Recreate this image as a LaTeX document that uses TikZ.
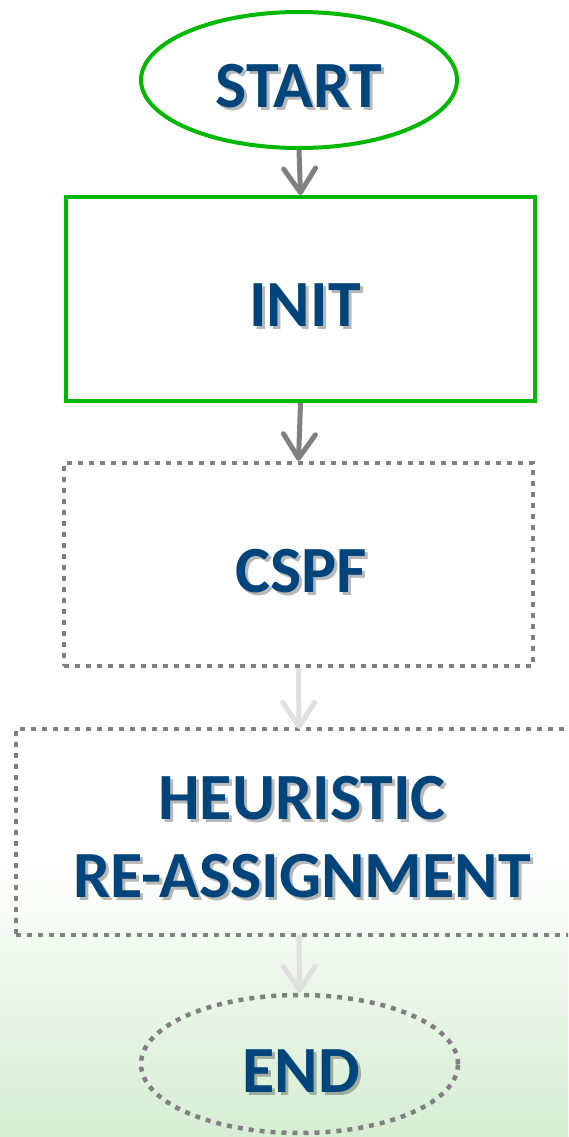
\documentclass[tikz,border=0pt]{standalone}
\usepackage{fontspec}
\setmainfont{Carlito}
\usetikzlibrary{arrows.meta,shapes.geometric,calc}
\definecolor{txtblue}{RGB}{0,68,124}
\definecolor{boxgreen}{RGB}{0,184,0}
\definecolor{dotgray}{RGB}{128,128,128}
\definecolor{fadegray}{RGB}{224,224,224}
\definecolor{bgbottom}{RGB}{213,237,210}
\tikzset{
  x=1pt, y=1pt,
  solidline/.style={draw=boxgreen, line width=4pt},
  dotline/.style={draw=dotgray, line width=4.5pt, dash pattern=on 5pt off 6pt},
  ovalbox/.style={ellipse, inner sep=0pt},
  rectbox/.style={rectangle, inner sep=0pt},
  flowtext/.style={text=txtblue, font=\fontsize{66}{78}\selectfont\bfseries, align=center, inner sep=0pt},
  glow/.style={text=black, font=\fontsize{66}{78}\selectfont\bfseries, align=center, inner sep=0pt, text opacity=0.28},
  flowarrow/.style={line width=5pt, -{Straight Barb[length=24pt, width=32pt, line cap=round, line join=round]}},
}
% label with a soft drop shadow behind it
\newcommand{\shadowedtext}[3]{%
  \node[glow] at ($(#1)+(3,-3.5)$) {#3};
  \node[flowtext] (#2) at (#1) {#3};
}
\begin{document}
\begin{tikzpicture}
  \useasboundingbox (0,0) rectangle (568,-1137);
  \clip (0,0) rectangle (568,-1137);
  % page background fading to green at the foot
  \fill[white] (0,0) rectangle (568,-1137);
  \shade[top color=white, bottom color=bgbottom] (0,-860) rectangle (568,-1137);

  % shapes
  \node[ovalbox, solidline, minimum width=316pt, minimum height=136pt] (start) at (299,-80) {};
  \node[rectbox, solidline, minimum width=469pt, minimum height=204pt] (init) at (300.5,-299) {};
  \node[rectbox, dotline, minimum width=469pt, minimum height=203pt] (cspf) at (298.5,-564.5) {};
  \node[rectbox, dotline, minimum width=600pt, minimum height=206pt] (heur) at (316,-832) {};
  \node[ovalbox, dotline, minimum width=317pt, minimum height=138pt] (end) at (299.5,-1064) {};

  % connector ends on the wide box, which runs past the right edge
  \coordinate (heurtop) at (299,-729);
  \coordinate (heurbot) at (299,-935);

  % connectors
  \draw[flowarrow, dotgray] (start.south) -- (init.north);
  \draw[flowarrow, dotgray] (init.south) -- (cspf.north);
  \draw[flowarrow, fadegray] (cspf.south) -- (heurtop);
  \draw[flowarrow, fadegray] (heurbot) -- (end.north);

  % labels
  \coordinate (pstart) at (299,-86);
  \coordinate (pinit) at (305,-305);
  \coordinate (pcspf) at (301,-571);
  \coordinate (pheur) at (302,-837);
  \coordinate (pend) at (301,-1071);
  \shadowedtext{pstart}{tstart}{START}
  \shadowedtext{pinit}{tinit}{INIT}
  \shadowedtext{pcspf}{tcspf}{CSPF}
  \shadowedtext{pheur}{theur}{HEURISTIC\\RE-ASSIGNMENT}
  \shadowedtext{pend}{tend}{END}
\end{tikzpicture}
\end{document}
